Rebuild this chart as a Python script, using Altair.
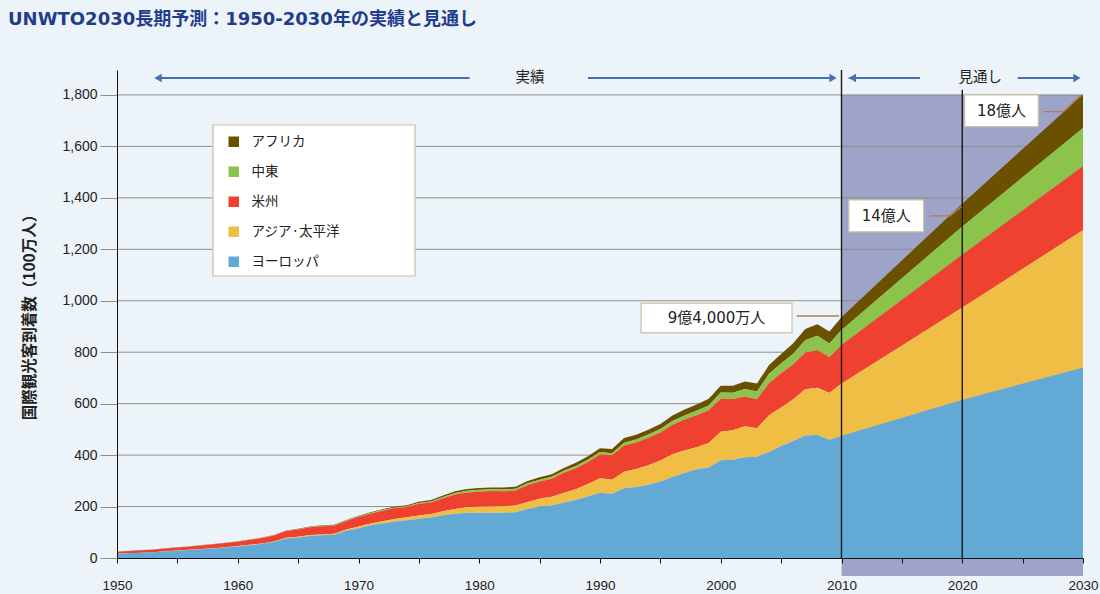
import altair as alt
import pandas as pd

# ---------------- data (millions of international tourist arrivals) ----------------
years = list(range(1950, 2011)) + [2020, 2030]

europe = [16, 18, 20, 22, 25, 28, 31, 34, 37, 41,
          45, 50, 55, 62, 76, 80, 86, 88, 90, 106,
          116, 127, 134, 142, 147, 153, 157, 166, 172, 176,
          176, 176, 176, 178, 190, 200, 205, 215, 225, 240,
          254, 250, 271, 276, 285, 297, 315, 330, 345, 352,
          380, 382, 392, 394, 412, 435, 455, 476, 478, 460,
          474, 614, 740]
asia_pacific = [0.5, 0.5, 0.6, 0.7, 0.8, 0.8, 0.9, 1.0, 1.1, 1.2,
                1.3, 1.5, 1.8, 2.1, 2.5, 2.9, 3.3, 3.8, 4.3, 5.0,
                6.0, 7.5, 9, 10, 11, 12, 14, 16, 18, 21,
                23, 24, 25, 26, 28, 30, 33, 38, 42, 48,
                56, 54, 64, 70, 76, 82, 88, 88, 86, 95,
                111, 115, 120, 110, 143, 150, 162, 180, 184, 181,
                204, 360, 535]
americas = [8, 9, 9.5, 10, 11, 12, 13, 14, 15, 16,
            17, 19, 21, 23, 26, 28, 30, 32, 31, 33,
            38, 38, 41, 42, 40, 46, 45, 50, 57, 58,
            59, 60, 58, 58, 65, 67, 70, 78, 82, 85,
            92, 95, 102, 103, 106, 109, 115, 120, 124, 127,
            128, 121, 116, 113, 125, 133, 136, 143, 147, 140,
            150, 205, 248]
middle_east = [0.2, 0.2, 0.2, 0.3, 0.3, 0.4, 0.4, 0.4, 0.5, 0.5,
               0.6, 0.7, 0.8, 0.9, 1.0, 1.2, 1.3, 1.4, 1.5, 1.7,
               1.9, 2.1, 2.3, 2.5, 2.7, 3.0, 4.0, 5.0, 6.0, 6.5,
               7.1, 7.0, 7.2, 7.3, 7.4, 7.5, 7.8, 8.2, 8.8, 9.2,
               9.6, 8.5, 11, 12, 13, 13.7, 15, 16, 17, 19,
               24, 24, 29, 30, 36, 38, 41, 47, 55, 53,
               58, 110, 149]
africa = [0.5, 0.5, 0.5, 0.5, 0.6, 0.6, 0.6, 0.7, 0.7, 0.8,
          0.8, 0.9, 1.0, 1.1, 1.3, 1.5, 1.7, 1.8, 2.0, 2.2,
          2.4, 2.8, 3.2, 3.5, 4.0, 4.7, 5.0, 5.6, 6.2, 6.8,
          7.2, 7.5, 7.5, 8.0, 8.8, 9.7, 9.5, 10.5, 12.5, 13.5,
          15, 16, 18, 18.5, 18.5, 19, 21, 23, 25, 26,
          27, 28, 29, 31, 34, 37, 41, 44, 45, 46,
          50, 88, 130]

# legend order (top -> bottom) and colours
series_names = ["アフリカ", "中東", "米州", "アジア·太平洋", "ヨーロッパ"]
series_colors = ["#6B5000", "#8CC34B", "#EE4130", "#F0BE45", "#63A9D6"]
series_values = [africa, middle_east, americas, asia_pacific, europe]

y_ticks = [0, 200, 400, 600, 800, 1000, 1200, 1400, 1600, 1800]
x_ticks = list(range(1950, 2031, 5))

title_text = "UNWTO2030長期予測：1950-2030年の実績と見通し"
y_title = "国際観光客到着数（100万人）"

# ---------------- long table ----------------
rows = []
for name, vals in zip(series_names, series_values):
    stack_order = 4 - series_names.index(name)  # Europe at the bottom
    for yr, v in zip(years, vals):
        rows.append({"year": yr, "region": name, "value": v, "stack_order": stack_order})
df = pd.DataFrame(rows)

FONT = "Liberation Sans, Noto Sans CJK JP"
WFONT = "DejaVu Sans, Noto Sans CJK JP"
JFONT = "Noto Sans CJK JP"

x_scale = alt.Scale(domain=[1950, 2030], nice=False, zero=False)
y_scale = alt.Scale(domain=[0, 1897], nice=False)

x_axis = alt.Axis(values=x_ticks, format="d", title=None,
                  labelExpr="datum.value % 10 == 0 ? datum.label : ''",
                  tickSize=5, labelPadding=15, labelFontSize=13.5,
                  labelFont=FONT, labelColor="#222222",
                  domainColor="#111111", tickColor="#111111",
                  grid=False, zindex=1, labelFlush=False)
y_axis = alt.Axis(values=y_ticks, format=",.0f", title=y_title,
                  titleFont=JFONT, titleFontSize=15.5, titleFontWeight="bold",
                  titleColor="#222222", titleAngle=-90, titleX=-88, titleY=243,
                  titleAlign="center", titleBaseline="middle",
                  tickSize=17, tickColor="#8E8E8E", labelPadding=3,
                  labelFontSize=14, labelFont=FONT, labelColor="#222222",
                  domainColor="#111111", grid=False, zindex=1)


def X(field):
    return alt.X(field, scale=x_scale, axis=x_axis)


def Y(field, **kw):
    return alt.Y(field, scale=y_scale, axis=y_axis, **kw)


# forecast shading (2010-2030)
shade_df = pd.DataFrame({"x": [2010], "x2": [2030], "y": [1800], "y2": [-70]})
shade = alt.Chart(shade_df).mark_rect(color="#9EA3C8").encode(
    x=X("x:Q"), x2="x2:Q", y=Y("y:Q"), y2="y2:Q",
)

# horizontal gridlines
grid_df = pd.DataFrame({"v": y_ticks[1:], "x": [1950] * 9, "x2": [2030] * 9})
grid = alt.Chart(grid_df).mark_rule(color="#8E8E8E", strokeWidth=1).encode(
    y=Y("v:Q"), x=X("x:Q"), x2="x2:Q",
)

# stacked areas
area = alt.Chart(df).mark_area(interpolate="linear").encode(
    x=X("year:Q"),
    y=Y("value:Q", stack="zero"),
    color=alt.Color("region:N",
                    scale=alt.Scale(domain=series_names, range=series_colors),
                    legend=alt.Legend(orient="none", legendX=110, legendY=65,
                                      title=None, symbolType="square", symbolSize=110,
                                      symbolStrokeWidth=0, labelFont=JFONT,
                                      labelFontSize=13.5, labelColor="#222222",
                                      labelOffset=11, rowPadding=15, padding=0)),
    order=alt.Order("stack_order:Q"),
)

# legend frame
legend_box = alt.Chart(pd.DataFrame({"a": [0]})).mark_rect(
    fill="white", stroke="#C9BFA6", strokeWidth=1.2
).encode(x=alt.value(96), x2=alt.value(298), y=alt.value(55), y2=alt.value(206))

# vertical reference lines at 2010 and 2020
vline_df = pd.DataFrame({"x": [2010, 2020], "top": [1897, 1820], "bottom": [0, 0]})
vlines = alt.Chart(vline_df).mark_rule(color="#1A1A1A", strokeWidth=1.4).encode(
    x=X("x:Q"), y=Y("bottom:Q"), y2="top:Q"
)

# period arrows at the top
arrow_df = pd.DataFrame({
    "x": [1953.2, 1989.0, 2010.6, 2024.6],
    "x2": [1979.2, 2009.2, 2016.5, 2029.6],
    "y": [1866, 1866, 1866, 1866],
})
arrows = alt.Chart(arrow_df).mark_rule(color="#4A6FAF", strokeWidth=2).encode(
    x=X("x:Q"), x2="x2:Q", y=Y("y:Q")
)
head_df = pd.DataFrame({
    "x": [1953.4, 2009.3, 2010.9, 2029.5],
    "y": [1866, 1866, 1866, 1866],
    "shape": ["triangle-left", "triangle-right", "triangle-left", "triangle-right"],
})
heads = alt.Chart(head_df).mark_point(filled=True, color="#4A6FAF", size=70, opacity=1).encode(
    x=X("x:Q"), y=Y("y:Q"),
    shape=alt.Shape("shape:N", scale=None),
)
period_df = pd.DataFrame({"x": [1984.2, 2021.5], "y": [1866, 1866], "t": ["実績", "見通し"]})
period_text = alt.Chart(period_df).mark_text(font=JFONT, fontSize=14.5, color="#222222",
                                            baseline="middle").encode(
    x=X("x:Q"), y=Y("y:Q"), text="t:N"
)

# callout boxes
box_df = pd.DataFrame({
    "x": [1993.4, 2010.6, 2020.2],
    "x2": [2005.9, 2016.8, 2026.3],
    "y": [991, 1392, 1800],
    "y2": [875, 1268, 1677],
    "tx": [1999.65, 2013.7, 2023.25],
    "ty": [933, 1330, 1738],
    "t": ["9億4,000万人", "14億人", "18億人"],
})
boxes = alt.Chart(box_df).mark_rect(fill="white", stroke="#C9BFA6", strokeWidth=1.2).encode(
    x=X("x:Q"), x2="x2:Q", y=Y("y:Q"), y2="y2:Q"
)
box_text = alt.Chart(box_df).mark_text(font=WFONT, fontSize=15, color="#222222",
                                       baseline="middle").encode(
    x=X("tx:Q"), y=Y("ty:Q"), text="t:N"
)
leader_df = pd.DataFrame({
    "grp": ["a", "a", "b", "b", "b", "c", "c", "c"],
    "i": [0, 1, 0, 1, 2, 0, 1, 2],
    "x": [2006.3, 2009.8, 2017.3, 2019.0, 2019.95, 2026.7, 2028.4, 2029.8],
    "y": [941, 941, 1330, 1330, 1366, 1735, 1735, 1800],
})
leaders = alt.Chart(leader_df).mark_line(color="#B27A55", strokeWidth=1.4).encode(
    x=X("x:Q"), y=Y("y:Q"),
    detail="grp:N", order="i:Q"
)

# chart title
title_df = pd.DataFrame({"t": [title_text]})
title = alt.Chart(title_df).mark_text(font=WFONT, fontSize=18, fontWeight="bold",
                                      color="#1F3D8C", align="left",
                                      baseline="middle").encode(
    x=alt.value(-109), y=alt.value(-50), text="t:N"
)

chart = alt.layer(
    shade, grid, area, vlines, legend_box, arrows, heads, period_text,
    leaders, boxes, box_text, title
).properties(
    width=966, height=488,
    autosize=alt.AutoSizeParams(type="none"),
    padding={"left": 117, "top": 70, "right": 17, "bottom": 36},
    background="#EDF4F9",
).configure_view(stroke=None)

chart.save("out.html", embed_options={"renderer": "svg", "actions": False})
